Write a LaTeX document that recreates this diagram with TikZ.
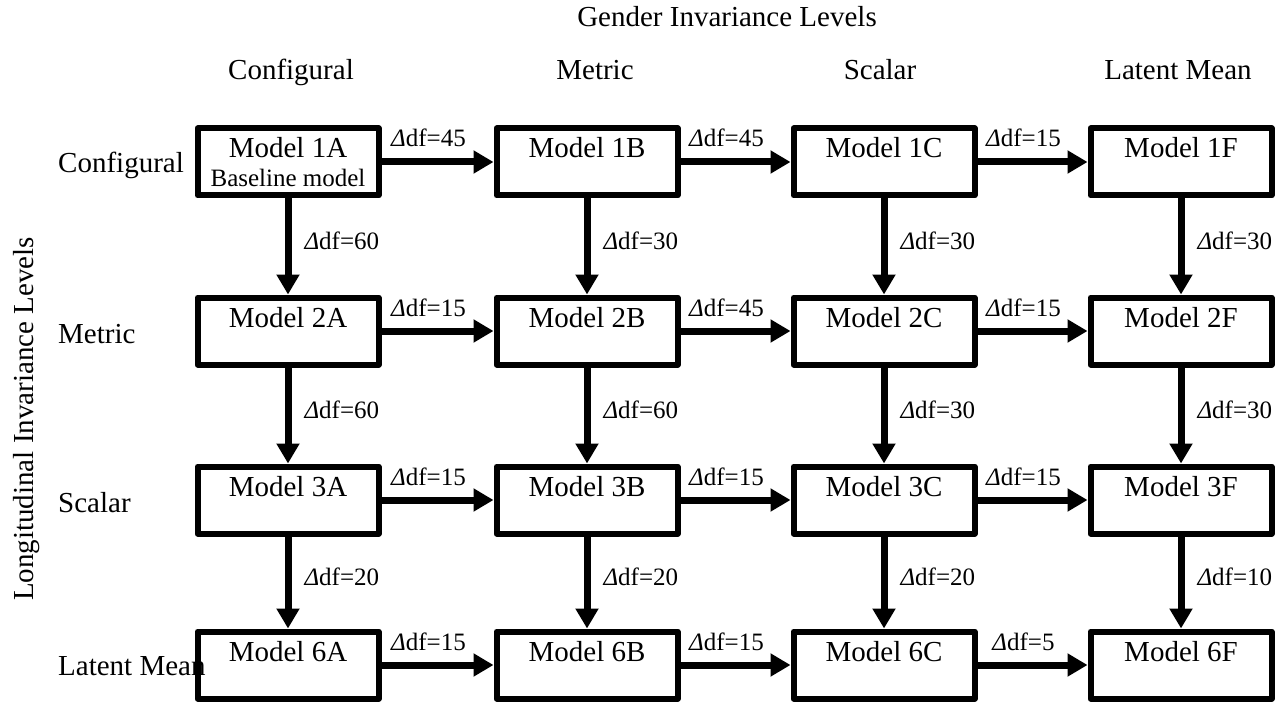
\documentclass[tikz,border=0pt]{standalone}
\usepackage{fontspec}
\setmainfont{Liberation Serif}
\usetikzlibrary{arrows.meta}
\newcommand\ddf[1]{\textit{Δ}df=#1}
\tikzset{
  x=1pt, y=-1pt,
  big/.style={font=\fontsize{29}{34}\selectfont, inner sep=0pt},
  small/.style={font=\fontsize{25}{29}\selectfont, inner sep=0pt},
  modelbox/.style={draw=black, line width=6pt, line join=round, minimum width=181pt, minimum height=67pt, inner sep=0pt},
  conn/.style={line width=7pt, -{Triangle[length=20pt,width=22pt]}},
  hlab/.style={small, anchor=base, xshift=-9pt, yshift=15pt},
  vlab/.style={small, anchor=base west, xshift=13pt, yshift=-3pt},
}
\begin{document}
\begin{tikzpicture}
\useasboundingbox (0,0) rectangle (1276,703);
% headers
\node[big, anchor=base] (gil) at (727,27) {Gender Invariance Levels};
\node[big, anchor=base] (hc1) at (291,80) {Configural};
\node[big, anchor=base] (hc2) at (595,80) {Metric};
\node[big, anchor=base] (hc3) at (880,80) {Scalar};
\node[big, anchor=base] (hc4) at (1178,80) {Latent Mean};
\node[big, rotate=90] (lil) at (27,419) {Longitudinal Invariance Levels};
% row labels
\node[big, anchor=base west] (hr1) at (58,173) {Configural};
\node[big, anchor=base west] (hr2) at (58,343) {Metric};
\node[big, anchor=base west] (hr3) at (58,512) {Scalar};
\node[big, anchor=base west] (hr4) at (58,675) {Latent Mean};
% boxes
\foreach \c/\x in {A/288, B/587, C/884, F/1181}{
  \foreach \r/\y in {1/162, 2/331, 3/500, 6/665}{
    \node[modelbox] (m\r\c) at (\x,\y) {};
    \node[big, anchor=base] (t\r\c) at (\x,\y-4) {Model \r\c};
  }
}
\node[small, anchor=base] (bl) at (288,187) {Baseline model};
% horizontal arrows
\draw[conn] (m1A) -- node[hlab] {\ddf{45}} (m1B);
\draw[conn] (m1B) -- node[hlab] {\ddf{45}} (m1C);
\draw[conn] (m1C) -- node[hlab] {\ddf{15}} (m1F);
\draw[conn] (m2A) -- node[hlab] {\ddf{15}} (m2B);
\draw[conn] (m2B) -- node[hlab] {\ddf{45}} (m2C);
\draw[conn] (m2C) -- node[hlab] {\ddf{15}} (m2F);
\draw[conn] (m3A) -- node[hlab] {\ddf{15}} (m3B);
\draw[conn] (m3B) -- node[hlab] {\ddf{15}} (m3C);
\draw[conn] (m3C) -- node[hlab] {\ddf{15}} (m3F);
\draw[conn] (m6A) -- node[hlab] {\ddf{15}} (m6B);
\draw[conn] (m6B) -- node[hlab] {\ddf{15}} (m6C);
\draw[conn] (m6C) -- node[hlab] {\ddf{5}} (m6F);
% vertical arrows
\draw[conn] (m1A) -- node[vlab] {\ddf{60}} (m2A);
\draw[conn] (m1B) -- node[vlab] {\ddf{30}} (m2B);
\draw[conn] (m1C) -- node[vlab] {\ddf{30}} (m2C);
\draw[conn] (m1F) -- node[vlab] {\ddf{30}} (m2F);
\draw[conn] (m2A) -- node[vlab] {\ddf{60}} (m3A);
\draw[conn] (m2B) -- node[vlab] {\ddf{60}} (m3B);
\draw[conn] (m2C) -- node[vlab] {\ddf{30}} (m3C);
\draw[conn] (m2F) -- node[vlab] {\ddf{30}} (m3F);
\draw[conn] (m3A) -- node[vlab] {\ddf{20}} (m6A);
\draw[conn] (m3B) -- node[vlab] {\ddf{20}} (m6B);
\draw[conn] (m3C) -- node[vlab] {\ddf{20}} (m6C);
\draw[conn] (m3F) -- node[vlab] {\ddf{10}} (m6F);
\end{tikzpicture}
\end{document}
